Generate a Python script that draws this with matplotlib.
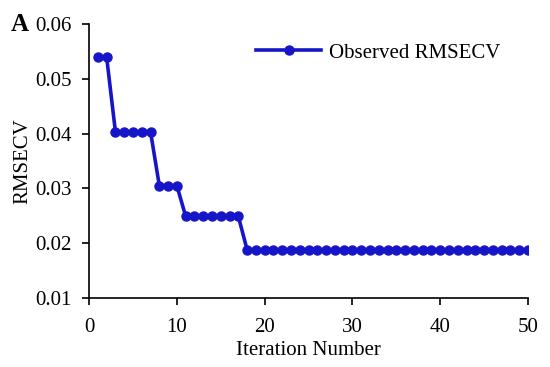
import matplotlib
matplotlib.use("Agg")
import matplotlib.pyplot as plt

iterations = list(range(1, 51))
rmsecv = [0.0539]*2 + [0.0403]*5 + [0.0305]*3 + [0.0249]*7 + [0.0188]*33
x_ticks = [0, 10, 20, 30, 40, 50]
y_ticks = [0.01, 0.02, 0.03, 0.04, 0.05, 0.06]

plt.rcParams['font.family'] = ['Liberation Serif', 'DejaVu Serif']
fig = plt.figure(figsize=(5.5, 3.67), dpi=100)
ax = fig.add_axes([0.162, 0.188, 0.798, 0.747])
color = '#1616c8'
ax.plot(iterations, rmsecv, color=color, lw=2.6, marker='o', ms=6.5, label='Observed RMSECV')
ax.set_xlim(0, 50)
ax.set_ylim(0.01, 0.06)
ax.set_xticks(x_ticks)
ax.set_yticks(y_ticks)
ax.set_yticklabels([f"{v:.2f}" for v in y_ticks])
for s in ['top', 'right']:
    ax.spines[s].set_visible(False)
for s in ['left', 'bottom']:
    ax.spines[s].set_linewidth(1.2)
ax.tick_params(axis='both', direction='out', length=5, width=1.2, labelsize=15)
ax.tick_params(axis='x', pad=9.5)
ax.tick_params(axis='y', pad=7.5)
ax.set_xlabel('Iteration Number', fontsize=15, labelpad=3)
ax.set_ylabel('RMSECV', fontsize=15, labelpad=2)
ax.legend(loc='center right', bbox_to_anchor=(0.91, 0.856), bbox_transform=fig.transFigure,
          frameon=False, fontsize=15, borderpad=0, borderaxespad=0,
          handlelength=3.1, handletextpad=0.4)
fig.text(0.02, 0.932, 'A', fontsize=18, fontweight='bold', va='center', ha='left')
fig.savefig('out.png', dpi=100)
